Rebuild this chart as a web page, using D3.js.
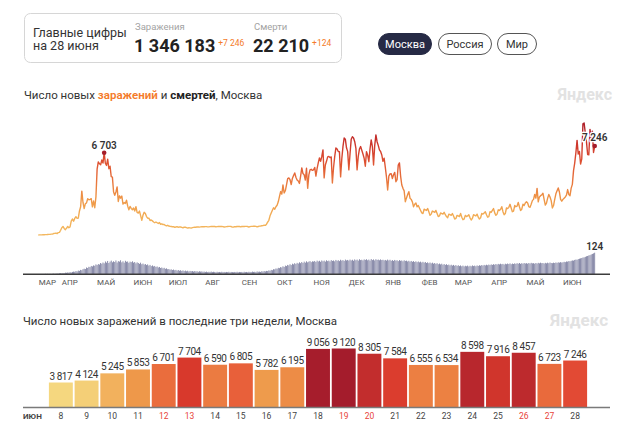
<!DOCTYPE html>
<html><head><meta charset="utf-8">
<script src="https://cdn.jsdelivr.net/npm/d3@7"></script>
<style>
body{margin:0;background:#fff;}
svg{display:block;font-family:Roboto,"Noto Sans",sans-serif;}
</style></head><body>
<svg id="c" width="620" height="425"></svg>
<script>
// ---------- DATA ----------
const startDate = "2020-03-12";
const cases2020_03 = [5,8,12,10,17,24,33, 33,45,54,54,71,71,120, 136,157,114,197,212,387];
const cases2020_04 = [595,697,536,434,547,697,591, 660,1124,1306,1124,1355,1489,1355, 1370,1959,2300,3570,2649,2151,2548, 2612,2948,2871,2902,2957,2298,2766, 2220,3100];
const cases2020_05 = [5358,5948,5795,5714,6110,5858,6703, 5846,5667,6169,5392,5600,4748,4712, 3505,3238,3505,3909,2731,3190,3000, 3175,2516,2638,2570,2830,2351,2054, 2332,2170,2054];
const cases2020_06 = [2200,1950,2300,1840,1790,1950,1572, 1195,1610,1850,1760,1500,1370,1370, 1180,1220,1150,1060,1000,1060,1000, 940,1010,870,910,850,860,780, 740,790];
const cases2020_07 = [730,700,690,670,680,620,650, 680,630,660,650,620,580,640, 630,600,560,590,580,560,600, 620,640,630,660,650,640,660, 670,680,670];
const cases2020_08 = [680,680,660,660,680,690,695, 697,690,660,680,690,700,690, 690,680,650,660,680,690,700, 700,690,640,650,680,670,690, 700,690,660];
const cases2020_09 = [690,700,690,705,700,690,650, 680,700,700,710,720,700,660, 690,720,730,750,760,800,780, 880,1050,1200,1560,1790,2016,2217, 2100,2300];
const cases2020_10 = [2424,2704,3120,3537,3327,4070,3420, 3600,4082,4590,4650,4501,4100,4610, 4850,5050,4700,4480,4400,4200,4800, 5460,5000,4900,4480,5430,3800,4900, 5300,5350,5260];
const cases2020_11 = [5300,5500,4800,5400,5870,6270,6000, 6400,6930,4650,5700,6000,6360,6400, 6300,6360,4240,5500,6400,7090,7000, 6800,6790,4730,6200,7200,7900,7800, 7100,6790];
const cases2020_12 = [5300,6600,7800,8000,7900,7600,7060, 5300,6400,7000,7200,6900,6600,6250, 5600,6790,6500,5970,7000,7740,7200, 5700,7300,8150,7600,7300,6930,6800, 6520,6000,6250];
const cases2021_01 = [5500,4700,3670,4800,4970,5000,4600, 4900,5100,4340,4500,5700,5870,4800, 4070,3800,3600,2710,3020,3300,3530, 3000,2900,2700,2300,2500,2600,2300, 2400,2200,2000];
const cases2021_02 = [1800,1750,2100,2050,2000,2150,1900, 1600,1700,1950,1900,1850,2000,1750, 1500,1550,1800,1750,1700,1850,1650, 1500,1400,1700,1650,1600,1750,1550];
const cases2021_03 = [1300,1350,1600,1550,1500,1750,1450, 1250,1300,1600,1500,1550,1650,1400, 1220,1350,1650,1600,1550,1700,1450, 1300,1400,1750,1700,1800,1900,1650, 1450,1500,1900];
const cases2021_04 = [1850,2000,2150,1800,1600,1700,2050, 2000,2100,2300,1900,1650,1750,2200, 2150,2250,2500,2200,1900,1950,2400, 2300,2350,2650,2300,2000,2100,2500, 2400,2600];
const cases2021_05 = [2700,2600,2300,2250,2500,2800,2900, 3300,3000,3800,2700,3100,3200,3260, 3400,2900,2440,2600,3000,3300,3100, 2800,2200,2400,2900,3350,3600,3830, 3500,2900,2750];
const cases2021_06_early = [2900,3000,3100,3250,3700,3300,3200];

const deaths2020_03 = [0,0,0,0,0,0,1, 0,1,0,1,0,1,2, 1,2,3,2,4,5];
const deaths2020_04 = [4,6,5,8,7,9,8, 11,9,12,14,13,17,15, 20,18,24,22,28,31,29, 38,35,42,40,47,44,50, 48,56];
const deaths2020_05 = [52,58,55,64,60,67,62, 73,66,76,64,72,78,68, 74,70,79,67,75,72,80, 68,74,66,77,71,73,65, 72,69,74];
const deaths2020_06 = [66,70,62,68,64,59,66, 57,61,55,58,52,56,49, 53,46,50,44,47,41,44, 38,41,35,38,33,36,30, 33,28];
const deaths2020_07 = [29,25,27,23,26,22,24, 20,23,19,22,18,21,17, 20,16,19,15,18,16,17, 14,17,15,16,13,16,14, 15,13,14];
const deaths2020_08 = [12,14,11,13,12,14,11, 13,12,10,13,11,12,10, 13,11,12,10,12,11,13, 10,12,11,10,12,11,13, 10,12,11];
const deaths2020_09 = [12,10,13,11,12,10,13, 12,11,14,12,13,11,15, 13,14,12,16,14,17,15, 18,17,21,19,24,22,28, 27,32];
const deaths2020_10 = [31,36,34,40,38,45,41, 49,46,53,50,57,52,60, 56,63,58,65,61,68,63, 70,64,72,66,74,68,72, 75,69,74];
const deaths2020_11 = [72,76,70,78,73,77,71, 79,74,78,72,80,75,78, 73,81,76,79,74,82,77, 80,75,83,78,81,76,84, 79,82];
const deaths2020_12 = [78,84,79,83,77,85,80, 84,78,86,81,83,79,85, 82,86,80,84,78,87,81, 85,79,86,82,84,80,85, 81,83,79];
const deaths2021_01 = [82,78,84,79,83,77,81, 76,82,78,80,75,81,77, 79,74,80,76,78,73,77, 72,76,71,75,70,74,69, 73,68,72];
const deaths2021_02 = [67,71,66,70,64,68,63, 67,62,66,60,64,59,63, 57,61,56,60,54,58,53, 57,52,55,50,54,49,53];
const deaths2021_03 = [48,52,47,51,46,50,45, 49,44,48,45,49,44,48, 45,50,46,49,45,50,47, 51,48,52,49,53,50,54, 51,55,52];
const deaths2021_04 = [56,53,57,54,58,55,59, 56,60,57,59,55,60,57, 61,58,62,57,61,58,62, 59,63,60,64,59,63,60, 64,61];
const deaths2021_05 = [63,60,64,61,65,62,63, 60,64,61,65,62,66,63, 64,61,65,62,66,63,67, 64,63,66,64,67,65,68, 66,69,67];
const deaths2021_06 = [68,71,69,73,72,75,74, 77,79,78,82,84,83,87, 89,91,93,96,97,100,103, 105,108,110,114,117,120,124];

const monthLabels = ["МАР","АПР","МАЙ","ИЮН","ИЮЛ","АВГ","СЕН","ОКТ","НОЯ","ДЕК","ЯНВ","ФЕВ","МАР","АПР","МАЙ","ИЮН"];

const barDays = [8,9,10,11,12,13,14,15,16,17,18,19,20,21,22,23,24,25,26,27,28];
const barValues = [3817,4124,5245,5853,6701,7704,6590,6805,5782,6195,9056,9120,8305,7584,6555,6534,8598,7916,8457,6723,7246];
const weekendDays = [12,13,19,20,26,27];

const totalCases = "1 346 183", newCases = "+7 246";
const totalDeaths = "22 210", newDeaths = "+124";

// ---------- BUILD ----------
const cases = [].concat(cases2020_03,cases2020_04,cases2020_05,cases2020_06,cases2020_07,cases2020_08,
  cases2020_09,cases2020_10,cases2020_11,cases2020_12,cases2021_01,cases2021_02,cases2021_03,
  cases2021_04,cases2021_05,cases2021_06_early,barValues);
const deaths = [].concat(deaths2020_03,deaths2020_04,deaths2020_05,deaths2020_06,deaths2020_07,deaths2020_08,
  deaths2020_09,deaths2020_10,deaths2020_11,deaths2020_12,deaths2021_01,deaths2021_02,deaths2021_03,
  deaths2021_04,deaths2021_05,deaths2021_06);
const parse = d3.timeParse("%Y-%m-%d");
const d0 = parse(startDate);
const series = cases.map((v,i)=>({date:d3.timeDay.offset(d0,i), v, d: deaths[i]}));

const svg = d3.select("#c");
const fmt = v => d3.format(",")(v).replace(/,/g," ");

// ---------- HEADER ----------
svg.append("rect").attr("x",24.5).attr("y",13.5).attr("width",317).attr("height",49).attr("rx",6)
  .attr("fill","#fff").attr("stroke","#d6d6d6");
svg.append("text").attr("x",33).attr("y",36.5).attr("font-size",12.5).attr("fill","#333").text("Главные цифры");
svg.append("text").attr("x",33).attr("y",50).attr("font-size",12.5).attr("fill","#333").text("на 28 июня");
svg.append("text").attr("x",135).attr("y",30).attr("font-size",9.5).attr("fill","#a3a3a3").text("Заражения");
svg.append("text").attr("x",254).attr("y",30).attr("font-size",9.5).attr("fill","#a3a3a3").text("Смерти");
const big1 = svg.append("text").attr("x",134).attr("y",52).attr("font-size",18).attr("font-weight",700).attr("fill","#222").text(totalCases);
const big2 = svg.append("text").attr("x",253).attr("y",52).attr("font-size",18).attr("font-weight",700).attr("fill","#222").text(totalDeaths);
svg.append("text").attr("x",134+big1.node().getComputedTextLength()+3).attr("y",45.5).attr("font-size",8.5).attr("fill","#f47b2a").text(newCases);
svg.append("text").attr("x",253+big2.node().getComputedTextLength()+3).attr("y",45.5).attr("font-size",8.5).attr("fill","#f47b2a").text(newDeaths);

const buttons = [{t:"Москва",x0:378,x1:432,on:true},{t:"Россия",x0:438,x1:492,on:false},{t:"Мир",x0:497,x1:537,on:false}];
buttons.forEach(b=>{
  svg.append("rect").attr("x",b.x0+0.5).attr("y",33.5).attr("width",b.x1-b.x0-1).attr("height",21).attr("rx",10.5)
    .attr("fill",b.on?"#262a45":"#fff").attr("stroke",b.on?"#262a45":"#555");
  svg.append("text").attr("x",(b.x0+b.x1)/2).attr("y",48).attr("text-anchor","middle").attr("font-size",11)
    .attr("fill",b.on?"#fff":"#333").text(b.t);
});

// ---------- LINE CHART ----------
const t1 = svg.append("text").attr("x",24).attr("y",98.5).attr("font-size",11.5).attr("fill","#333");
t1.append("tspan").text("Число новых ");
t1.append("tspan").attr("fill","#f47b2a").attr("font-weight",600).text("заражений");
t1.append("tspan").text(" и ");
t1.append("tspan").attr("font-weight",700).attr("fill","#222").text("смертей");
t1.append("tspan").text(", Москва");
svg.append("text").attr("x",612).attr("y",100).attr("text-anchor","end").attr("font-size",16).attr("font-weight",700)
  .attr("fill","#e2e2e2").text("Яндекс");

const x = d3.scaleTime().domain([parse("2020-02-28"), parse("2021-07-11")]).range([23,610]);
const yL = d3.scaleLinear().domain([0,9120]).range([235,123]);
const yD = d3.scaleLinear().domain([0,124]).range([274,252.7]);

// deaths bars
svg.append("g").selectAll("rect").data(series).join("rect")
  .attr("x",d=>x(d.date)-0.4).attr("width",0.8)
  .attr("y",d=>yD(d.d)).attr("height",d=>yD(0)-yD(d.d))
  .attr("fill","#6f7196");
svg.append("line").attr("x1",23).attr("x2",610).attr("y1",274.3).attr("y2",274.3).attr("stroke","#3c3c3c").attr("stroke-width",1.4);

// gradient
const grad = svg.append("defs").append("linearGradient").attr("id","lg").attr("gradientUnits","userSpaceOnUse")
  .attr("x1",0).attr("x2",0).attr("y1",yL(0)).attr("y2",yL(9120));
const gstops = [[0,"#f3b85f"],[1500,"#f2ae56"],[3000,"#ee9446"],[4500,"#e8733c"],[6000,"#dd4f31"],[7500,"#cc342b"],[9120,"#ad1f2a"]];
gstops.forEach(s=>grad.append("stop").attr("offset",s[0]/9120).attr("stop-color",s[1]));

const line = d3.line().x(d=>x(d.date)).y(d=>yL(d.v));
svg.append("path").datum(series).attr("d",line).attr("fill","none").attr("stroke","url(#lg)")
  .attr("stroke-width",1.4).attr("stroke-linejoin","round");

// month labels
const months = d3.timeMonth.range(parse("2020-03-01"), parse("2021-07-01"));
svg.append("g").selectAll("text").data(months).join("text")
  .attr("x",(m)=>Math.max(x(m), x(series[0].date)+0.5)).attr("y",285).attr("font-size",8)
  .attr("fill","#555").text((m,i)=>monthLabels[i]);

// peak annotation
const peak = series.slice(0,200).reduce((a,b)=>b.v>a.v?b:a);
svg.append("circle").attr("cx",x(peak.date)).attr("cy",yL(peak.v)).attr("r",2.3).attr("fill","#a51d2a");
svg.append("text").attr("x",x(peak.date)).attr("y",yL(peak.v)-4).attr("text-anchor","middle")
  .attr("font-size",10).attr("font-weight",600).attr("fill","#333").text(fmt(peak.v));
const last = series[series.length-1];
svg.append("circle").attr("cx",x(last.date)).attr("cy",yL(last.v)).attr("r",2.3).attr("fill","#a51d2a");
svg.append("text").attr("x",x(last.date)).attr("y",yL(last.v)-5).attr("text-anchor","middle")
  .attr("font-size",10).attr("font-weight",600).attr("fill","#333")
  .attr("stroke","#fff").attr("stroke-width",2.5).attr("paint-order","stroke").text(fmt(last.v));
svg.append("text").attr("x",x(last.date)).attr("y",yD(last.d)-3).attr("text-anchor","middle")
  .attr("font-size",10).attr("font-weight",600).attr("fill","#333").text(last.d);

// ---------- BAR CHART ----------
svg.append("text").attr("x",23).attr("y",324.5).attr("font-size",11.5).attr("fill","#333")
  .text("Число новых заражений в последние три недели, Москва");
svg.append("text").attr("x",608).attr("y",326).attr("text-anchor","end").attr("font-size",17).attr("font-weight",700)
  .attr("fill","#e2e2e2").text("Яндекс");

const xb = d3.scaleBand().domain(barDays).range([48,588]).paddingInner(0.07).paddingOuter(0.035);
const yb = d3.scaleLinear().domain([0,9120]).range([407,348.5]);
const col = d3.scaleLinear().domain([3800,5200,5850,6550,6800,7250,7700,8400,9120])
  .range(["#f5d77f","#f2b35e","#ee984a","#ec8042","#e8603a","#e24a34","#d8392c","#bf2b2d","#a41c2c"]).clamp(true);
const bars = barDays.map((d,i)=>({d, v:barValues[i]}));
svg.append("g").selectAll("rect").data(bars).join("rect")
  .attr("x",b=>xb(b.d)).attr("width",xb.bandwidth())
  .attr("y",b=>yb(b.v)).attr("height",b=>yb(0)-yb(b.v)).attr("fill",b=>col(b.v));
svg.append("g").selectAll("text").data(bars).join("text")
  .attr("x",b=>xb(b.d)+xb.bandwidth()/2).attr("y",b=>yb(b.v)-3).attr("text-anchor","middle")
  .attr("font-size",10).attr("letter-spacing",-0.45).attr("fill","#333").text(b=>fmt(b.v));
svg.append("line").attr("x1",23).attr("x2",610).attr("y1",407.5).attr("y2",407.5).attr("stroke","#7a7a7a").attr("stroke-width",1.5);
svg.append("g").selectAll("text").data(bars).join("text")
  .attr("x",b=>xb(b.d)+xb.bandwidth()/2).attr("y",419).attr("text-anchor","middle")
  .attr("font-size",8.5).attr("fill",b=>weekendDays.includes(b.d)?"#e8433a":"#444").text(b=>b.d);
svg.append("text").attr("x",23).attr("y",419).attr("font-size",8).attr("font-weight",700).attr("fill","#444").text("ИЮН");
</script>
</body></html>
